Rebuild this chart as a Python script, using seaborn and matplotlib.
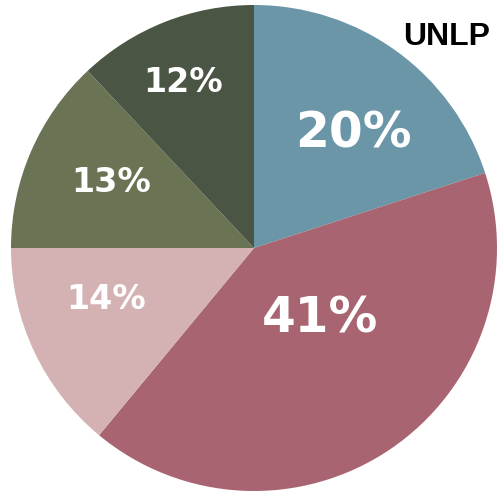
import matplotlib
matplotlib.use("Agg")
import matplotlib.pyplot as plt
import seaborn as sns

sns.set_style("white")
plt.rcParams['font.family'] = ['DejaVu Sans']

categories = ["A", "B", "C", "D", "E"]
values = [20, 41, 14, 13, 12]
labels = ["20%", "41%", "14%", "13%", "12%"]
colors = sns.color_palette(["#6A96A8", "#A86470", "#D4B2B4", "#6B7355", "#4A5544"])

label_pos = [(0.41, 0.47), (0.27, -0.29), (-0.61, -0.21), (-0.59, 0.27), (-0.29, 0.68)]
label_size = [35, 35, 24, 24, 24]

fig = plt.figure(figsize=(4.99, 4.95), dpi=100)
ax = fig.add_axes([11/499, 4/495, 486/499, 486/495])
wedges, _ = ax.pie(values, colors=colors, startangle=90, counterclock=False,
                   radius=1, wedgeprops=dict(linewidth=0))
for (x, y), lab, s in zip(label_pos, labels, label_size):
    ax.text(x, y, lab, color="white", fontsize=s, fontweight="bold",
            ha="center", va="center")
ax.set_xlim(-1, 1)
ax.set_ylim(-1, 1)
ax.set_aspect("equal")
ax.axis("off")
fig.text(447/499, 1 - 37/495, "UNLP", fontsize=23, fontweight="bold",
         family="Liberation Sans", color="black", ha="center", va="center")
fig.savefig("out.png", dpi=100)
